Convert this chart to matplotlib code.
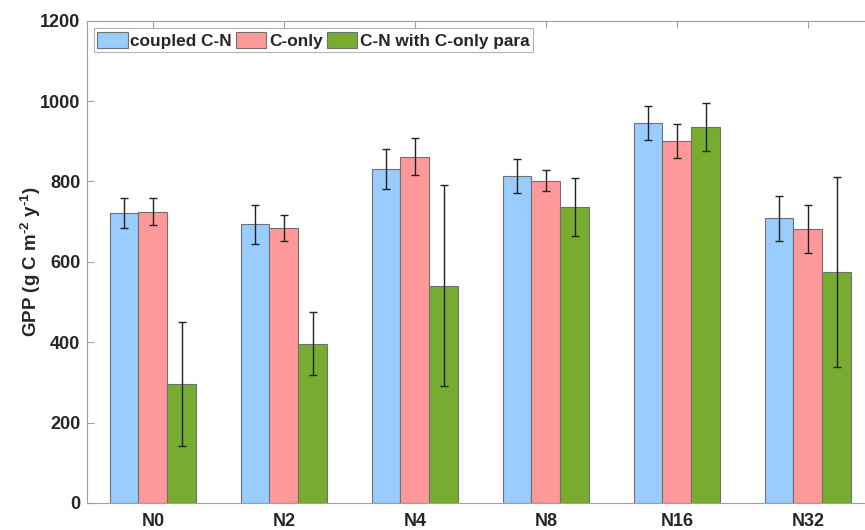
import numpy as np
import matplotlib
matplotlib.use("Agg")
import matplotlib.pyplot as plt

plt.rcParams['font.family'] = ['Liberation Sans', 'DejaVu Sans']
plt.rcParams['font.weight'] = 'bold'
plt.rcParams['mathtext.fontset'] = 'custom'
plt.rcParams['mathtext.rm'] = 'Liberation Sans:bold'
plt.rcParams['mathtext.default'] = 'rm'

# GPP per N-addition treatment, mean and error for each model setup
treatments = ['N0', 'N2', 'N4', 'N8', 'N16', 'N32']
series_names = ['coupled C-N', 'C-only', 'C-N with C-only para']
gpp_coupled = [722, 693, 830, 814, 945, 708]
gpp_conly = [725, 684, 862, 802, 901, 682]
gpp_cn_para = [296, 396, 541, 737, 935, 575]
err_coupled = [37, 49, 50, 43, 43, 57]
err_conly = [33, 33, 46, 26, 43, 60]
err_cn_para = [154, 78, 249, 72, 59, 237]

colors = ['#99ccff', '#ff9999', '#77ac30']

fig = plt.figure(figsize=(8.65, 5.3), dpi=100)
ax = fig.add_axes([0.101, 0.051, 0.9087, 0.910])

x = np.arange(1, len(treatments) + 1)
w = 0.22
means = [gpp_coupled, gpp_conly, gpp_cn_para]
errs = [err_coupled, err_conly, err_cn_para]
for i, (m, e) in enumerate(zip(means, errs)):
    pos = x + (i - 1) * w
    ax.bar(pos, m, width=w, color=colors[i], edgecolor='#707070',
           linewidth=0.8, label=series_names[i], zorder=2)
    ax.errorbar(pos, m, yerr=e, fmt='none', ecolor='#222222',
                elinewidth=1.0, capsize=3, capthick=1.0, zorder=3)

ax.set_xlim(0.5, 6.5)
ax.set_ylim(0, 1200)
ax.set_yticks(np.arange(0, 1201, 200))
ax.set_xticks(x)
ax.set_xticklabels(treatments)
ax.tick_params(direction='in', length=5, width=0.8, colors='#a0a0a0',
               labelcolor='#262626', labelsize=13, top=True, right=True)
ax.tick_params(axis='x', pad=7)
ax.tick_params(axis='y', pad=5)
for s in ax.spines.values():
    s.set_color('#a0a0a0')
    s.set_linewidth(0.8)
for lab in ax.get_xticklabels() + ax.get_yticklabels():
    lab.set_fontweight('bold')

ax.set_ylabel('GPP (g C m$^{\u20102}$ y$^{\u20101}$)', fontsize=13.5,
              fontweight='bold', color='#262626', labelpad=-2)

leg = ax.legend(loc='upper left', ncol=3, fontsize=12.4, frameon=True,
                fancybox=False, handlelength=1.75, handleheight=1.05,
                handletextpad=0.15, columnspacing=0.25, borderpad=0.22,
                bbox_to_anchor=(0.008, 0.985), borderaxespad=0)
leg.get_frame().set_edgecolor('#a0a0a0')
leg.get_frame().set_linewidth(0.8)
for t in leg.get_texts():
    t.set_fontweight('bold')
    t.set_color('#262626')

fig.savefig('out.png', dpi=100)
